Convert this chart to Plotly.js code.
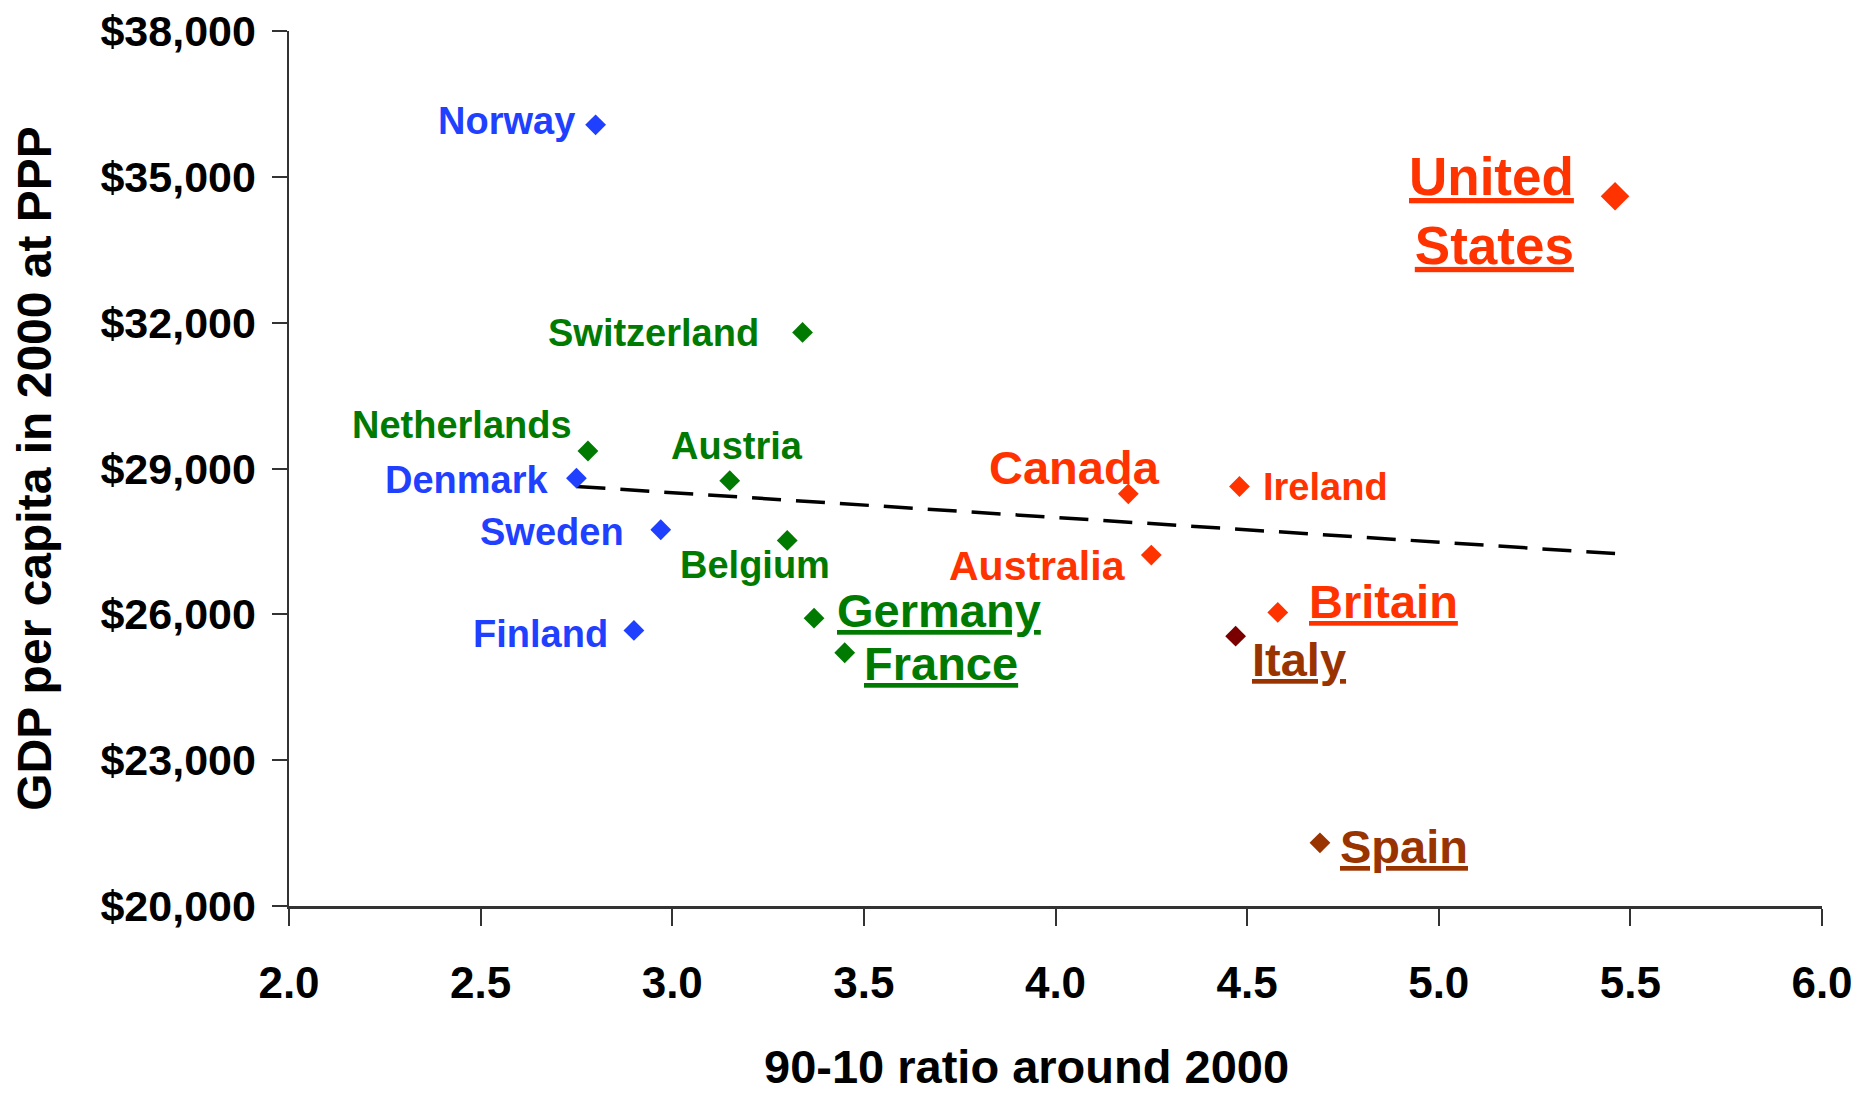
<!DOCTYPE html>
<html>
<head>
<meta charset="utf-8">
<script src="https://cdn.plot.ly/plotly-3.0.1.min.js"></script>
<style>html,body{margin:0;padding:0;background:#fff;}#chart{width:1875px;height:1095px;}</style>
</head>
<body>
<div id="chart"></div>
<script>
// ---- data ----
const countries = ['Norway','United States','Switzerland','Netherlands','Denmark','Austria','Canada','Ireland','Sweden','Belgium','Australia','Britain','Germany','Finland','Italy','France','Spain'];
const ratio9010 = [2.80, 5.46, 3.34, 2.78, 2.75, 3.15, 4.19, 4.48, 2.97, 3.30, 4.25, 4.58, 3.37, 2.90, 4.47, 3.45, 4.69];
const gdpPerCapita = [36070, 34600, 31800, 29360, 28800, 28750, 28480, 28630, 27740, 27520, 27220, 26040, 25920, 25670, 25550, 25210, 21300];
const trendRatio = [2.75, 5.46];
const trendGdp = [28630, 27250];
const xTickVals = [2.0, 2.5, 3.0, 3.5, 4.0, 4.5, 5.0, 5.5, 6.0];
const yTickVals = [20000, 23000, 26000, 29000, 32000, 35000, 38000];
const yTickText = ['$20,000', '$23,000', '$26,000', '$29,000', '$32,000', '$35,000', '$38,000'];
const xTitle = '90-10 ratio around 2000';
const yTitle = 'GDP per capita in 2000 at PPP';

// ---- styles (colours, label placement) ----
const BLUE = '#1f40ff', GREEN = '#007a00', RED = '#ff3300', BROWN = '#993300', DARKRED = '#7a0000';
const FONT = 'Liberation Sans, Arial, sans-serif';
const style = {
  'Norway':        {mc: BLUE,    tc: BLUE,  ms: 16, fs: 38, a: 'right',  dx: -19, dy: 4,   u: false, txt: 'Norway'},
  'United States': {mc: RED,     tc: RED,   ms: 22, fs: 53, a: 'right',  dx: -39, dy: -15, u: true,  txt: 'United<br>States'},
  'Switzerland':   {mc: GREEN,   tc: GREEN, ms: 16, fs: 38, a: 'right',  dx: -42, dy: -1,  u: false, txt: 'Switzerland'},
  'Netherlands':   {mc: GREEN,   tc: GREEN, ms: 16, fs: 38, a: 'right',  dx: -14, dy: 26,  u: false, txt: 'Netherlands'},
  'Denmark':       {mc: BLUE,    tc: BLUE,  ms: 16, fs: 38, a: 'right',  dx: -26, dy: -2,  u: false, txt: 'Denmark'},
  'Austria':       {mc: GREEN,   tc: GREEN, ms: 16, fs: 38, a: 'center', dx: 7,   dy: 35,  u: false, txt: 'Austria'},
  'Canada':        {mc: RED,     tc: RED,   ms: 16, fs: 47, a: 'center', dx: -54, dy: 26,  u: false, txt: 'Canada'},
  'Ireland':       {mc: RED,     tc: RED,   ms: 16, fs: 38, a: 'left',   dx: 22,  dy: -1,  u: false, txt: 'Ireland'},
  'Sweden':        {mc: BLUE,    tc: BLUE,  ms: 16, fs: 38, a: 'right',  dx: -35, dy: -2,  u: false, txt: 'Sweden'},
  'Belgium':       {mc: GREEN,   tc: GREEN, ms: 16, fs: 38, a: 'center', dx: -32, dy: -25, u: false, txt: 'Belgium'},
  'Australia':     {mc: RED,     tc: RED,   ms: 16, fs: 41, a: 'right',  dx: -23, dy: -11, u: false, txt: 'Australia'},
  'Britain':       {mc: RED,     tc: RED,   ms: 16, fs: 47, a: 'left',   dx: 29,  dy: 11,  u: true,  txt: 'Britain'},
  'Germany':       {mc: GREEN,   tc: GREEN, ms: 16, fs: 47, a: 'left',   dx: 21,  dy: 8,   u: true,  txt: 'Germany'},
  'Finland':       {mc: BLUE,    tc: BLUE,  ms: 16, fs: 38, a: 'right',  dx: -24, dy: -4,  u: false, txt: 'Finland'},
  'Italy':         {mc: DARKRED, tc: BROWN, ms: 16, fs: 47, a: 'left',   dx: 14,  dy: -23, u: true,  txt: 'Italy'},
  'France':        {mc: GREEN,   tc: GREEN, ms: 16, fs: 47, a: 'left',   dx: 17,  dy: -11, u: true,  txt: 'France'},
  'Spain':         {mc: BROWN,   tc: BROWN, ms: 16, fs: 47, a: 'left',   dx: 18,  dy: -4,  u: true,  txt: 'Spain'}
};

const traces = [
  {
    x: trendRatio, y: trendGdp, type: 'scatter', mode: 'lines',
    line: {color: '#000', width: 3.5, dash: '29px,15px'},
    hoverinfo: 'skip', showlegend: false
  },
  {
    x: ratio9010, y: gdpPerCapita, type: 'scatter', mode: 'markers',
    text: countries,
    marker: {
      symbol: 'diamond',
      color: countries.map(c => style[c].mc),
      size: countries.map(c => style[c].ms),
      opacity: 1,
      line: {width: 0}
    },
    showlegend: false
  }
];

const annotations = countries.map((c, i) => {
  const s = style[c];
  return {
    x: ratio9010[i], y: gdpPerCapita[i], xref: 'x', yref: 'y',
    text: s.txt, showarrow: false,
    xanchor: s.a, yanchor: 'middle', align: 'right',
    xshift: s.dx, yshift: s.dy,
    font: {family: FONT, size: s.fs, color: s.tc, weight: 'bold', lineposition: s.u ? 'under' : 'none'}
  };
});

// x-axis title (placed as an annotation so it can sit slightly left of centre, as in the original)
annotations.push({
  xref: 'paper', yref: 'paper', x: 0.4814, y: -0.183,
  xanchor: 'center', yanchor: 'middle', showarrow: false, borderpad: 0,
  text: xTitle,
  font: {family: FONT, size: 47, color: '#000', weight: 'bold'}
});

const layout = {
  width: 1875, height: 1095,
  paper_bgcolor: '#fff', plot_bgcolor: '#fff',
  margin: {l: 289, r: 53, t: 31, b: 189},
  showlegend: false,
  font: {family: FONT, color: '#000'},
  xaxis: {
    range: [2, 6], tickmode: 'array', tickvals: xTickVals, tickformat: '.1f',
    showgrid: false, zeroline: false,
    showline: true, linecolor: '#333', linewidth: 2.5,
    ticks: 'outside', ticklen: 17, tickwidth: 2, tickcolor: '#333',
    ticklabelstandoff: 20,
    tickfont: {family: FONT, size: 44, color: '#000', weight: 'bold'}
  },
  yaxis: {
    range: [20000, 38000], tickmode: 'array', tickvals: yTickVals, ticktext: yTickText,
    showgrid: false, zeroline: false,
    showline: true, linecolor: '#333', linewidth: 2.5,
    ticks: 'outside', ticklen: 15, tickwidth: 2, tickcolor: '#333',
    ticklabelstandoff: 7,
    tickfont: {family: FONT, size: 43, color: '#000', weight: 'bold'},
    title: {text: yTitle, standoff: 34,
            font: {family: FONT, size: 48, color: '#000', weight: 'bold'}}
  },
  annotations: annotations
};

Plotly.newPlot('chart', traces, layout, {displayModeBar: false, staticPlot: true});
</script>
</body>
</html>
